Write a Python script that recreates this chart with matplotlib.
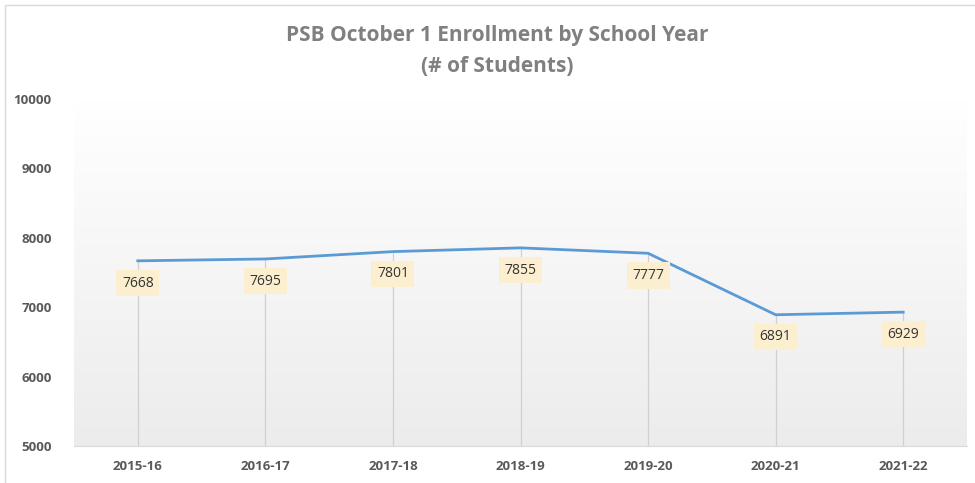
import numpy as np
import matplotlib.pyplot as plt
from matplotlib.patches import Rectangle
from matplotlib.colors import LinearSegmentedColormap

years = ["2015-16", "2016-17", "2017-18", "2018-19", "2019-20", "2020-21", "2021-22"]
enrollment = [7668, 7695, 7801, 7855, 7777, 6891, 6929]
y_ticks = [5000, 6000, 7000, 8000, 9000, 10000]

plt.rcParams['font.family'] = ['Open Sans', 'DejaVu Sans']

fig = plt.figure(figsize=(9.75, 4.83), dpi=100)
ax = fig.add_axes([74 / 975, 1 - 446 / 483, 893 / 975, 347 / 483])

x = np.arange(len(years))
ax.set_xlim(-0.5, len(years) - 0.5)
ax.set_ylim(5000, 10000)

# soft vertical gradient behind the plot area: grey at bottom, white at top
grad = np.linspace(0, 1, 256).reshape(-1, 1)
cmap = LinearSegmentedColormap.from_list('g', ['#ececec', '#ffffff'])
ax.imshow(grad, extent=(-0.5, len(years) - 0.5, 5000, 10000), aspect='auto',
          cmap=cmap, zorder=0, origin='lower')

# drop lines
ax.vlines(x, 5000, enrollment, color='#d0d0d0', lw=0.9, zorder=1)
ax.plot(x, enrollment, color='#5b9bd5', lw=2, zorder=3)

for xi, v in zip(x, enrollment):
    ax.annotate(str(v), (xi, v), xytext=(0, -16), textcoords='offset points',
                ha='center', va='center', fontsize=10, color='#333333',
                bbox=dict(boxstyle='square,pad=0.4', fc='#fcefcf', ec='none'), zorder=4)

ax.set_xticks(x)
ax.set_xticklabels(years)
ax.set_yticks(y_ticks)
ax.set_yticklabels([str(t) for t in y_ticks])
ax.tick_params(axis='both', length=0, labelsize=9.5, labelcolor='#595959')
ax.tick_params(axis='x', pad=10)
ax.tick_params(axis='y', pad=16)
for lbl in ax.get_xticklabels() + ax.get_yticklabels():
    lbl.set_fontweight('bold')

for s in ['top', 'right', 'left']:
    ax.spines[s].set_visible(False)
ax.spines['bottom'].set_color('#d9d9d9')

fig.text(497 / 975, 1 - 36 / 483, "PSB October 1 Enrollment by School Year",
         ha='center', va='center', fontsize=15, fontweight='bold', color='#808080')
fig.text(497 / 975, 1 - 66 / 483, "(# of Students)",
         ha='center', va='center', fontsize=15, fontweight='bold', color='#808080')

# chart frame
fig.patches.append(Rectangle((5 / 975, -0.01), 1.02, 1 - 5 / 483 + 0.01, transform=fig.transFigure,
                             fill=False, ec='#d9d9d9', lw=1))

fig.savefig("out.png", dpi=100)
